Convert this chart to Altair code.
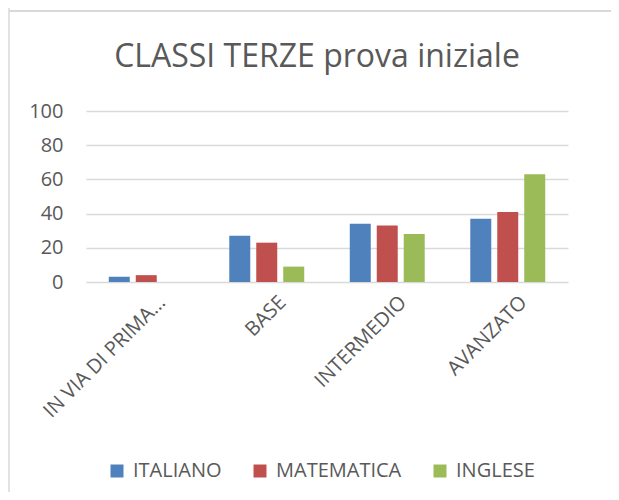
import altair as alt
import pandas as pd

categories = ["IN VIA DI PRIMA ACQUISIZIONE", "BASE", "INTERMEDIO", "AVANZATO"]
series = ["ITALIANO", "MATEMATICA", "INGLESE"]
italiano = [3, 27, 34, 37]
matematica = [4, 23, 33, 41]
inglese = [0, 9, 28, 63]
colors = ["#4F81BD", "#C0504D", "#9BBB59"]
title_text = "CLASSI TERZE prova iniziale"

rows = []
for s, vals in zip(series, [italiano, matematica, inglese]):
    for c, v in zip(categories, vals):
        rows.append({"livello": c, "materia": s, "valore": v})
df = pd.DataFrame(rows)

TXT = "#595959"
FONT = "Open Sans"

bars = alt.Chart(df).mark_bar().encode(
    x=alt.X("livello:N", sort=categories, title=None,
            scale=alt.Scale(paddingInner=0.378, paddingOuter=0.189),
            axis=alt.Axis(labelAngle=315, labelAlign="right", labelBaseline="middle",
                          labelOffset=16, labelPadding=17, ticks=False, domain=False,
                          labelFontSize=20, labelColor=TXT, labelFont=FONT,
                          labelLimit=163, grid=False)),
    xOffset=alt.XOffset("materia:N", sort=series,
                        scale=alt.Scale(paddingInner=0.222, paddingOuter=0)),
    y=alt.Y("valore:Q", title=None,
            scale=alt.Scale(domain=[0, 100], nice=False),
            axis=alt.Axis(values=[0, 20, 40, 60, 80, 100], ticks=False, domain=False,
                          labelPadding=23, labelFontSize=20, labelColor=TXT,
                          labelFont=FONT, gridColor="#d9d9d9", gridWidth=1.5)),
    color=alt.Color("materia:N", sort=series,
                    scale=alt.Scale(domain=series, range=colors),
                    legend=alt.Legend(title=None, orient="none", direction="horizontal",
                                      legendX=21, legendY=350, symbolType="square",
                                      symbolSize=169, symbolStrokeWidth=0,
                                      labelFontSize=20, labelColor=TXT, labelFont=FONT,
                                      labelOffset=6, columnPadding=28, padding=0)),
)

vline = alt.Chart(pd.DataFrame({"k": [0]})).mark_rule(color="#d9d9d9", strokeWidth=1.5).encode(
    x=alt.value(-77), y=alt.value(-111), y2=alt.value(381))
hline = alt.Chart(pd.DataFrame({"k": [0]})).mark_rule(color="#d9d9d9", strokeWidth=2).encode(
    x=alt.value(-77), x2=alt.value(525), y=alt.value(-100))

chart = alt.layer(bars, vline, hline).properties(
    width=482, height=171,
    autosize=alt.AutoSizeParams(type="none"),
    padding={"left": 78, "top": 103, "right": 43, "bottom": 210},
    title=alt.TitleParams(title_text, fontSize=32, font=FONT, fontWeight="normal",
                          color=TXT, anchor="middle", dx=-10, offset=-75),
).configure_view(stroke=None)

chart.save("out.html", embed_options={"renderer": "svg", "actions": False})
